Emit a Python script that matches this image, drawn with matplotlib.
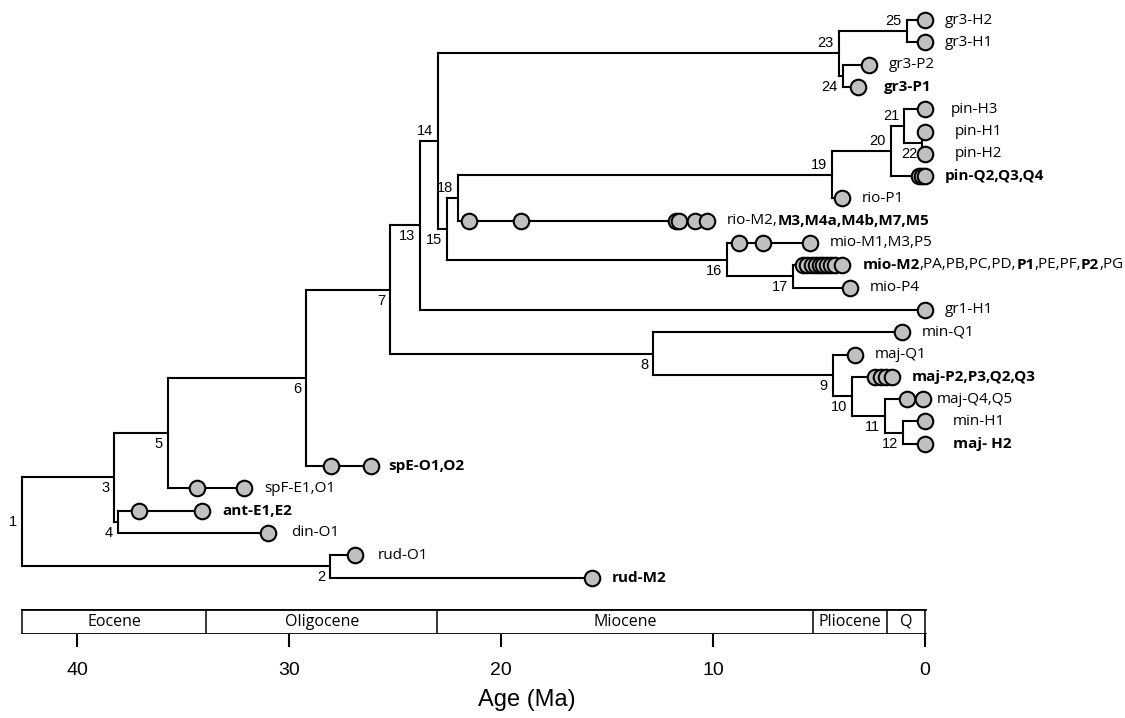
import numpy as np
import matplotlib.pyplot as plt
from matplotlib.patches import Rectangle

# ages of the internal nodes (Ma)
node_ages = {1: 42.6, 2: 28.07, 3: 38.25, 4: 38.07, 5: 35.71, 6: 29.2, 7: 25.24,
             8: 12.83, 9: 4.34, 10: 3.44, 11: 1.89, 12: 1.04, 13: 23.82, 14: 22.97,
             15: 22.55, 16: 9.34, 17: 6.23, 18: 22.03, 19: 4.39, 20: 1.6, 21: 0.99,
             22: 0.14, 23: 4.06, 24: 3.87, 25: 0.85}

# children of each node, top to bottom
tree = {1: [3, 2], 3: [5, 4], 5: [6, 'spF'], 6: [7, 'spE'], 7: [13, 8],
        13: [14, 'gr1-H1'], 14: [23, 15], 23: [25, 24],
        25: ['gr3-H2', 'gr3-H1'], 24: ['gr3-P2', 'gr3-P1'],
        15: [18, 16], 18: [19, 'rio-M'], 19: [20, 'rio-P1'],
        20: [21, 'pin-Q'], 21: ['pin-H3', 22], 22: ['pin-H1', 'pin-H2'],
        16: ['mio-M1', 17], 17: ['mio-M2', 'mio-P4'],
        8: ['min-Q1', 9], 9: ['maj-Q1', 10], 10: ['maj-P2', 11],
        11: ['maj-Q4', 12], 12: ['min-H1', 'maj-H2'],
        4: ['ant', 'din'], 2: ['rud-O1', 'rud-M2']}

# sample ages (Ma) on each tip lineage
tip_samples = {
    'gr3-H2': [0.0], 'gr3-H1': [0.0], 'gr3-P2': [2.64], 'gr3-P1': [3.16],
    'pin-H3': [0.0], 'pin-H1': [0.0], 'pin-H2': [0.0], 'pin-Q': [0.3, 0.15, 0.0],
    'rio-P1': [3.92], 'rio-M': [21.51, 19.06, 11.75, 11.6, 10.85, 10.28],
    'mio-M1': [8.77, 7.64, 5.42],
    'mio-M2': [5.75, 5.55, 5.35, 5.15, 4.95, 4.8, 4.6, 4.45, 4.25, 3.9],
    'mio-P4': [3.54], 'gr1-H1': [0.0], 'min-Q1': [1.08], 'maj-Q1': [3.3],
    'maj-P2': [2.36, 2.08, 1.84, 1.56], 'maj-Q4': [0.85, 0.1], 'min-H1': [0.0],
    'maj-H2': [0.0], 'spE': [28.02, 26.13], 'spF': [34.34, 32.12],
    'ant': [37.08, 34.1], 'din': [30.99], 'rud-O1': [26.89], 'rud-M2': [15.73]}

# tip labels, text between ** is bold
tip_labels = {
    'gr3-H2': 'gr3-H2', 'gr3-H1': 'gr3-H1', 'gr3-P2': 'gr3-P2', 'gr3-P1': '**gr3-P1**',
    'pin-H3': 'pin-H3', 'pin-H1': 'pin-H1', 'pin-H2': 'pin-H2', 'pin-Q': '**pin-Q2,Q3,Q4**',
    'rio-P1': 'rio-P1', 'rio-M': 'rio-M2,**M3,M4a,M4b,M7,M5**',
    'mio-M1': 'mio-M1,M3,P5',
    'mio-M2': '**mio-M2**,PA,PB,PC,PD,**P1**,PE,PF,**P2**,PG',
    'mio-P4': 'mio-P4', 'gr1-H1': 'gr1-H1', 'min-Q1': 'min-Q1', 'maj-Q1': 'maj-Q1',
    'maj-P2': '**maj-P2,P3,Q2,Q3**', 'maj-Q4': 'maj-Q4,Q5', 'min-H1': 'min-H1',
    'maj-H2': '**maj- H2**', 'spE': '**spE-O1,O2**', 'spF': 'spF-E1,O1',
    'ant': '**ant-E1,E2**', 'din': 'din-O1', 'rud-O1': 'rud-O1', 'rud-M2': '**rud-M2**'}

epochs = ['Eocene', 'Oligocene', 'Miocene', 'Pliocene', 'Q']
epoch_bounds = [42.6, 33.9, 23.0, 5.3, 1.8, 0.0]
age_ticks = [40, 30, 20, 10, 0]

label_font = 'Open Sans'
num_font = 'Liberation Sans'
px = 0.72  # points per pixel at dpi 100

# label gaps (px) that differ from the default
label_gap = {'gr3-P1': 26, 'pin-H3': 26, 'pin-H1': 30, 'pin-H2': 30,
             'maj-Q4': 14, 'min-H1': 28, 'maj-H2': 28, 'din': 23, 'rud-O1': 23,
             'spE': 17}
above = [14, 18, 19, 20, 21, 23, 25]

# rows from a depth-first walk, nodes at the middle of their children
ypos = {}
count = [0]


def place(n):
    if n not in tree:
        ypos[n] = count[0]
        count[0] += 1
    else:
        for c in tree[n]:
            place(c)
        ypos[n] = (ypos[tree[n][0]] + ypos[tree[n][-1]]) / 2


place(1)

fig = plt.figure(figsize=(11.25, 7.18), dpi=100)
ax = fig.add_axes([0, 1 - 600 / 718, 1, 600 / 718])
ax.set_xlim(925 / 21.2, -200 / 21.2)
ax.set_ylim((600 - 20) / 22.3, -20 / 22.3)
ax.axis('off')

lw = 1.5
for n, kids in tree.items():
    x = node_ages[n]
    ax.plot([x, x], [ypos[kids[0]], ypos[kids[-1]]], color='k', lw=lw,
            solid_capstyle='projecting', zorder=2)
    for c in kids:
        end = node_ages[c] if c in node_ages else min(tip_samples[c])
        ax.plot([x, end], [ypos[c], ypos[c]], color='k', lw=lw,
                solid_capstyle='projecting', zorder=2)
    if n in above:
        off = (-5 * px, 10 * px)
    elif n == 1:
        off = (-5 * px, 0)
    else:
        off = (-5 * px, -11 * px)
    ax.annotate(str(n), (x, ypos[n]), xytext=off, textcoords='offset points',
                ha='right', va='center', fontsize=10.5, family=num_font)

for tip, ages in tip_samples.items():
    ages = sorted(ages, reverse=True)
    for a in ages:
        ax.scatter([a], [ypos[tip]], s=125, facecolor='#c0c0c0', edgecolor='k',
                   linewidths=1.5, zorder=3, clip_on=False)
    gap = label_gap.get(tip, 20)
    parts = tip_labels[tip].split('**')
    prev = None
    for i, part in enumerate(parts):
        if not part:
            continue
        weight = 'bold' if i % 2 else 'normal'
        if prev is None:
            prev = ax.annotate(part, (ages[-1], ypos[tip]), xytext=(gap * px, 0),
                               textcoords='offset points', ha='left', va='center',
                               fontsize=11, family=label_font, fontweight=weight)
        else:
            prev = ax.annotate(part, (1, 0), xycoords=prev, ha='left', va='bottom',
                               fontsize=11, family=label_font, fontweight=weight)

# geological time scale
ax2 = fig.add_axes([0, 84 / 718, 1, 25 / 718])
ax2.set_xlim(ax.get_xlim())
ax2.set_ylim(0, 1)
for s in ax2.spines.values():
    s.set_visible(False)
ax2.set_yticks([])
ax2.plot([epoch_bounds[0], 0], [1, 1], color='k', lw=2, solid_capstyle='projecting')
ax2.plot([epoch_bounds[0], 0], [0, 0], color='k', lw=2, solid_capstyle='projecting')
for b in epoch_bounds:
    ax2.plot([b, b], [0, 1], color='k', lw=1.1)
for name, a0, a1 in zip(epochs, epoch_bounds[:-1], epoch_bounds[1:]):
    ax2.text((a0 + a1) / 2, 0.5, name, ha='center', va='center',
             fontsize=11.5, family=label_font)
ax2.set_xticks(age_ticks)
ax2.set_xticklabels([str(t) for t in age_ticks], fontsize=14, family=num_font)
ax2.tick_params(axis='x', length=9.4, width=1.5, pad=11, direction='out')

fig.text(527 / 1125, 1 - 700 / 718, 'Age (Ma)', ha='center', va='center',
         fontsize=17, family=num_font)

fig.savefig('out.png', dpi=100)
